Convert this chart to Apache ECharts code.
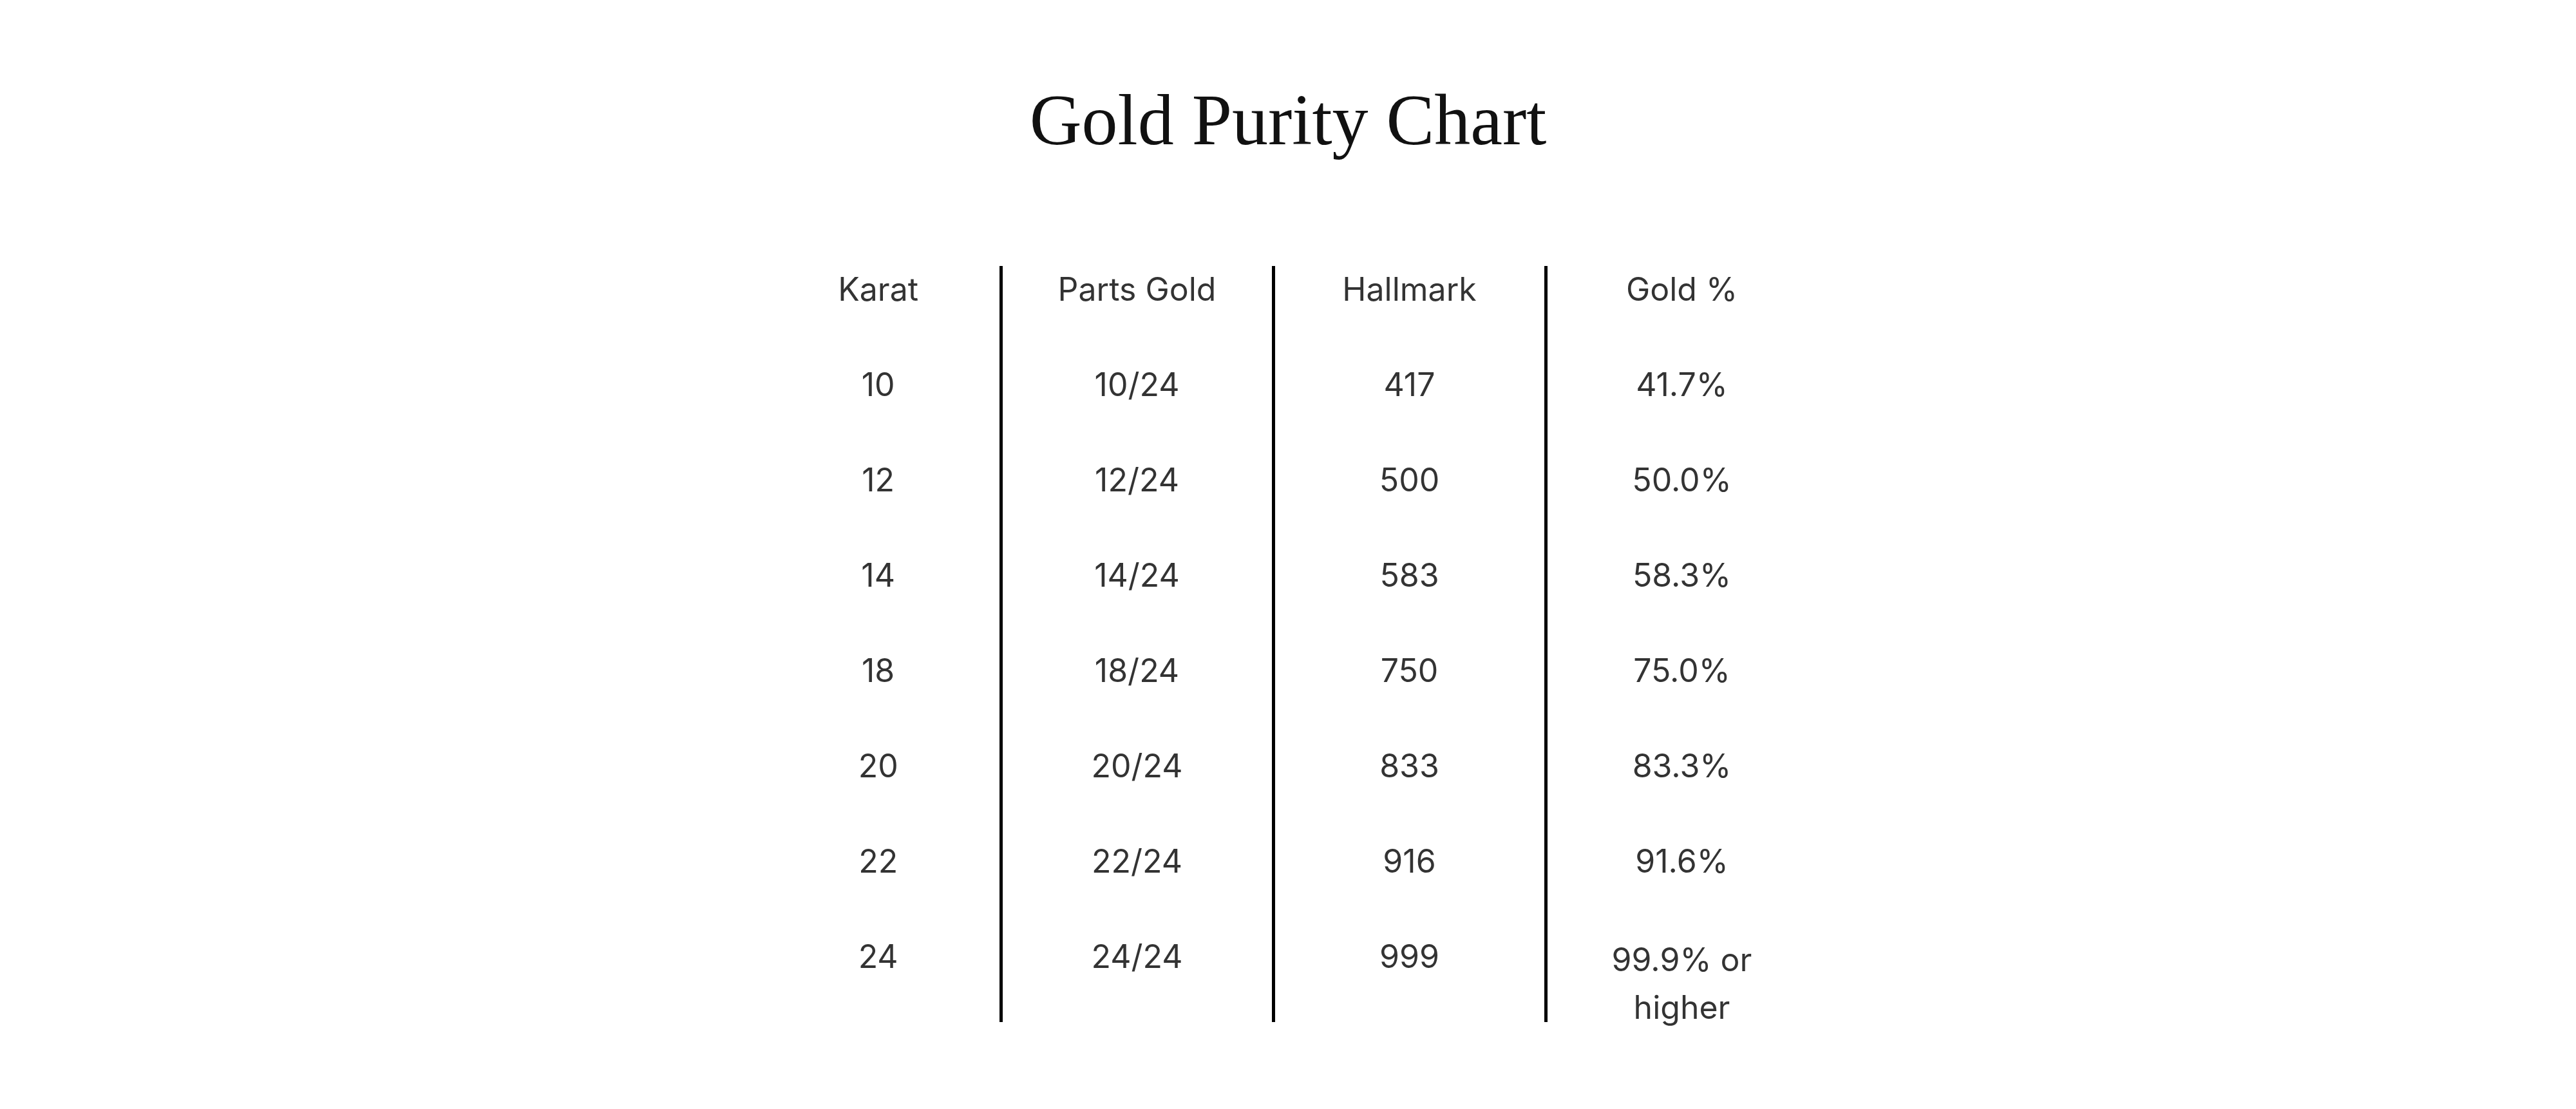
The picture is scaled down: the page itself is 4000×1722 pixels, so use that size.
<!DOCTYPE html>
<html>
<head>
<meta charset="utf-8">
<script src="https://cdn.jsdelivr.net/npm/echarts@6/dist/echarts.min.js"></script>
<style>html,body{margin:0;background:#fff}#chart{width:4000px;height:1722px}</style>
</head>
<body>
<div id="chart"></div>
<script>
const headers = ['Karat', 'Parts Gold', 'Hallmark', 'Gold %'];
const karats = ['10', '12', '14', '18', '20', '22', '24'];
const partsGold = ['10/24', '12/24', '14/24', '18/24', '20/24', '22/24', '24/24'];
const hallmarks = ['417', '500', '583', '750', '833', '916', '999'];
const goldPct = ['41.7%', '50.0%', '58.3%', '75.0%', '83.3%', '91.6%', '99.9% or\nhigher'];
const colX = [0.55, 1.5, 2.5, 3.5];
const dividers = [1, 2, 3];

const columns = [karats, partsGold, hallmarks, goldPct];
const cells = [];
headers.forEach((h, c) => cells.push({ value: [colX[c], 0], name: h }));
columns.forEach((col, c) => {
    col.forEach((txt, r) => {
        const item = { value: [colX[c], r + 1], name: txt };
        if (txt.indexOf('\n') >= 0) item.label = { offset: [0, 42] };
        cells.push(item);
    });
});

const myChart = echarts.init(document.getElementById('chart'));
myChart.setOption({
    animation: false,
    title: {
        text: 'Gold Purity Chart',
        left: 'center',
        top: 134,
        textStyle: { fontFamily: 'Liberation Serif', fontWeight: 'normal', fontSize: 112, color: '#111' }
    },
    grid: { left: 1131, width: 1692, top: 413, height: 1174 },
    xAxis: { type: 'value', min: 0, max: 4, show: false },
    yAxis: { type: 'value', min: -0.26, max: 7.67, inverse: true, show: false },
    series: [{
        type: 'scatter',
        symbolSize: 0,
        data: cells,
        label: {
            show: true,
            position: 'inside',
            formatter: p => p.name,
            fontFamily: 'Inter',
            fontSize: 50,
            lineHeight: 74,
            color: '#000',
            textBorderWidth: 0
        },
        markLine: {
            silent: true,
            symbol: 'none',
            label: { show: false },
            lineStyle: { color: '#000', width: 5, type: 'solid' },
            data: dividers.map(x => ({ xAxis: x }))
        }
    }]
});
</script>
</body>
</html>
